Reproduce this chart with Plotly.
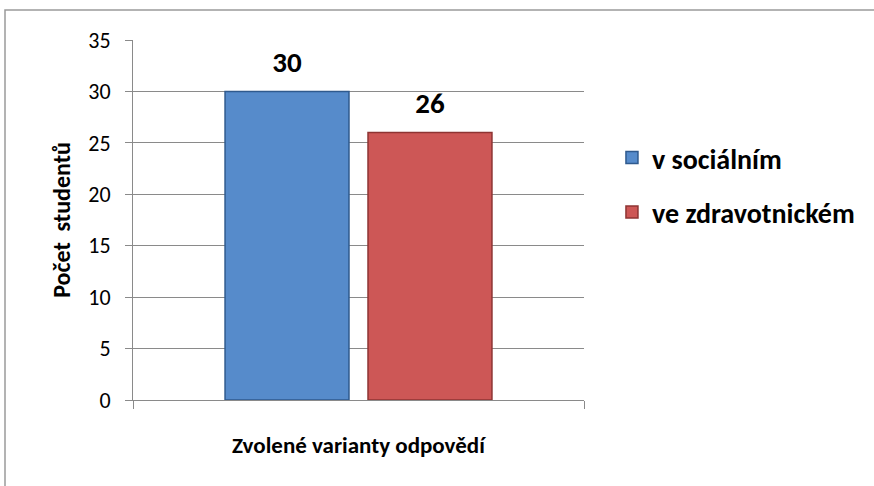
import plotly.graph_objects as go

categories = ["Zvolené varianty odpovědí"]
series_names = ["v sociálním", "ve zdravotnickém"]
series_values = [[30], [26]]
series_colors = ["#568BCB", "#CD5756"]
series_lines = ["#2F5A8E", "#8E3433"]
y_ticks = [0, 5, 10, 15, 20, 25, 30, 35]

FONT = "Carlito, Lato, 'Open Sans', sans-serif"
GRID = "#8A8A8A"

fig = go.Figure()
for name, vals, col, lc in zip(series_names, series_values, series_colors, series_lines):
    fig.add_trace(go.Bar(
        x=categories, y=vals, name=name, legendgroup=name,
        marker=dict(color=col, line=dict(color=lc, width=1.5)),
        offsetgroup=name, alignmentgroup="g",
    ))
# value labels, aligned with their bars
for name, vals in zip(series_names, series_values):
    fig.add_trace(go.Scatter(
        x=categories, y=vals, mode="markers+text", showlegend=False,
        text=[f"<b>{v}</b>" for v in vals], textposition="top center",
        textfont=dict(size=29, color="black", family=FONT),
        marker=dict(size=18, opacity=0), hoverinfo="skip",
        offsetgroup=name, alignmentgroup="g", cliponaxis=False,
    ))

fig.update_layout(
    width=874, height=486,
    margin=dict(l=133, r=290, t=40, b=86),
    paper_bgcolor="white", plot_bgcolor="white",
    barmode="group", bargap=0.366, bargroupgap=0.133,
    scattermode="group", scattergap=0.366,
    font=dict(family=FONT, size=22, color="black"),
    showlegend=True,
    legend=dict(x=1.062, y=0.742, xanchor="left", yanchor="top",
                font=dict(size=28, color="black", family=FONT, weight="bold"),
                tracegroupgap=15, traceorder="grouped",
                itemwidth=30),
    yaxis=dict(range=[0, 35], tickvals=y_ticks, showgrid=True, gridcolor=GRID,
               gridwidth=1, showline=True, linecolor=GRID, linewidth=1,
               ticks="outside", ticklen=7, tickcolor=GRID, ticklabelstandoff=10,
               tickfont=dict(size=22, family=FONT),
               title=dict(text="<b>Počet  studentů</b>", font=dict(size=24, family=FONT), standoff=10),
               zeroline=False, fixedrange=True),
    xaxis=dict(showticklabels=False, showline=True, linecolor=GRID, linewidth=1,
               ticks="outside", tickson="boundaries", ticklen=8, tickcolor=GRID,
               title=dict(text="<b>Zvolené varianty odpovědí</b>", font=dict(size=23, family=FONT), standoff=36),
               fixedrange=True),
)

# outer chart border
fig.add_shape(type="rect", xref="paper", yref="paper",
              x0=(5 - 133) / 451, x1=(890 - 133) / 451,
              y0=(400 - 500) / 360, y1=(400 - 10) / 360,
              line=dict(color="#9A9A9A", width=1.5), layer="below")

fig.write_html("out.html", config={"displayModeBar": False},
               post_script="document.body.style.margin='0';")
